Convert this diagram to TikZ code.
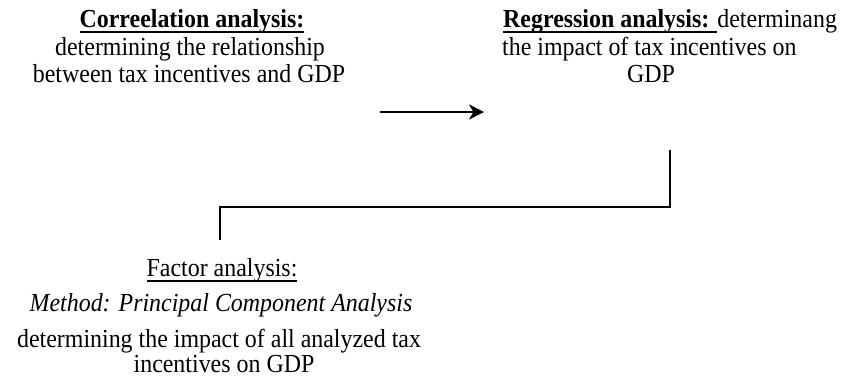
\documentclass[tikz,border=0pt]{standalone}
\usepackage{fontspec}
\setmainfont[FakeStretch=0.92]{Liberation Serif}
\usetikzlibrary{arrows.meta}
\newcommand{\undl}[1]{\sbox0{#1}\rlap{\rule[-6pt]{\wd0}{1.8pt}}\usebox0}
\begin{document}
\begin{tikzpicture}[x=1pt,y=-1pt,
  txt/.style={font=\fontsize{26}{28}\selectfont, inner sep=0pt, anchor=base},
  conn/.style={line width=2.8pt},
  arr/.style={line width=2.4pt, -{Stealth[length=15pt,width=15pt,inset=4.5pt]}}]
\useasboundingbox (0,0) rectangle (842,376);
\node[txt] (c1) at (192,27) {\undl{\textbf{Correelation analysis:}}};
\node[txt] (c2) at (190,55) {determining the relationship};
\node[txt] (c3) at (189,82) {between tax incentives and GDP};
\node[txt, anchor=base west] (r1) at (503,27) {\undl{\textbf{Regression analysis: }}determinang};
\node[txt, anchor=base west] (r2) at (502,55) {the impact of tax incentives on};
\node[txt] (r3) at (651,82) {GDP};
\node[txt] (f1) at (222,276) {\undl{Factor analysis:}};
\node[txt] (f2) at (221,311) {\textit{Method: Principal Component Analysis}};
\node[txt] (f3) at (219,347) {determining the impact of all analyzed tax};
\node[txt] (f4) at (224,372) {incentives on GDP};
\coordinate (a0) at (380,112);
\coordinate (a1) at (484,112);
\draw[arr] (a0) -- (a1);
\coordinate (e0) at (670,150);
\coordinate (e2) at (220,207);
\coordinate (e1) at (220,240);
\draw[conn] (e0) |- (e2) -- (e1);
\end{tikzpicture}
\end{document}
